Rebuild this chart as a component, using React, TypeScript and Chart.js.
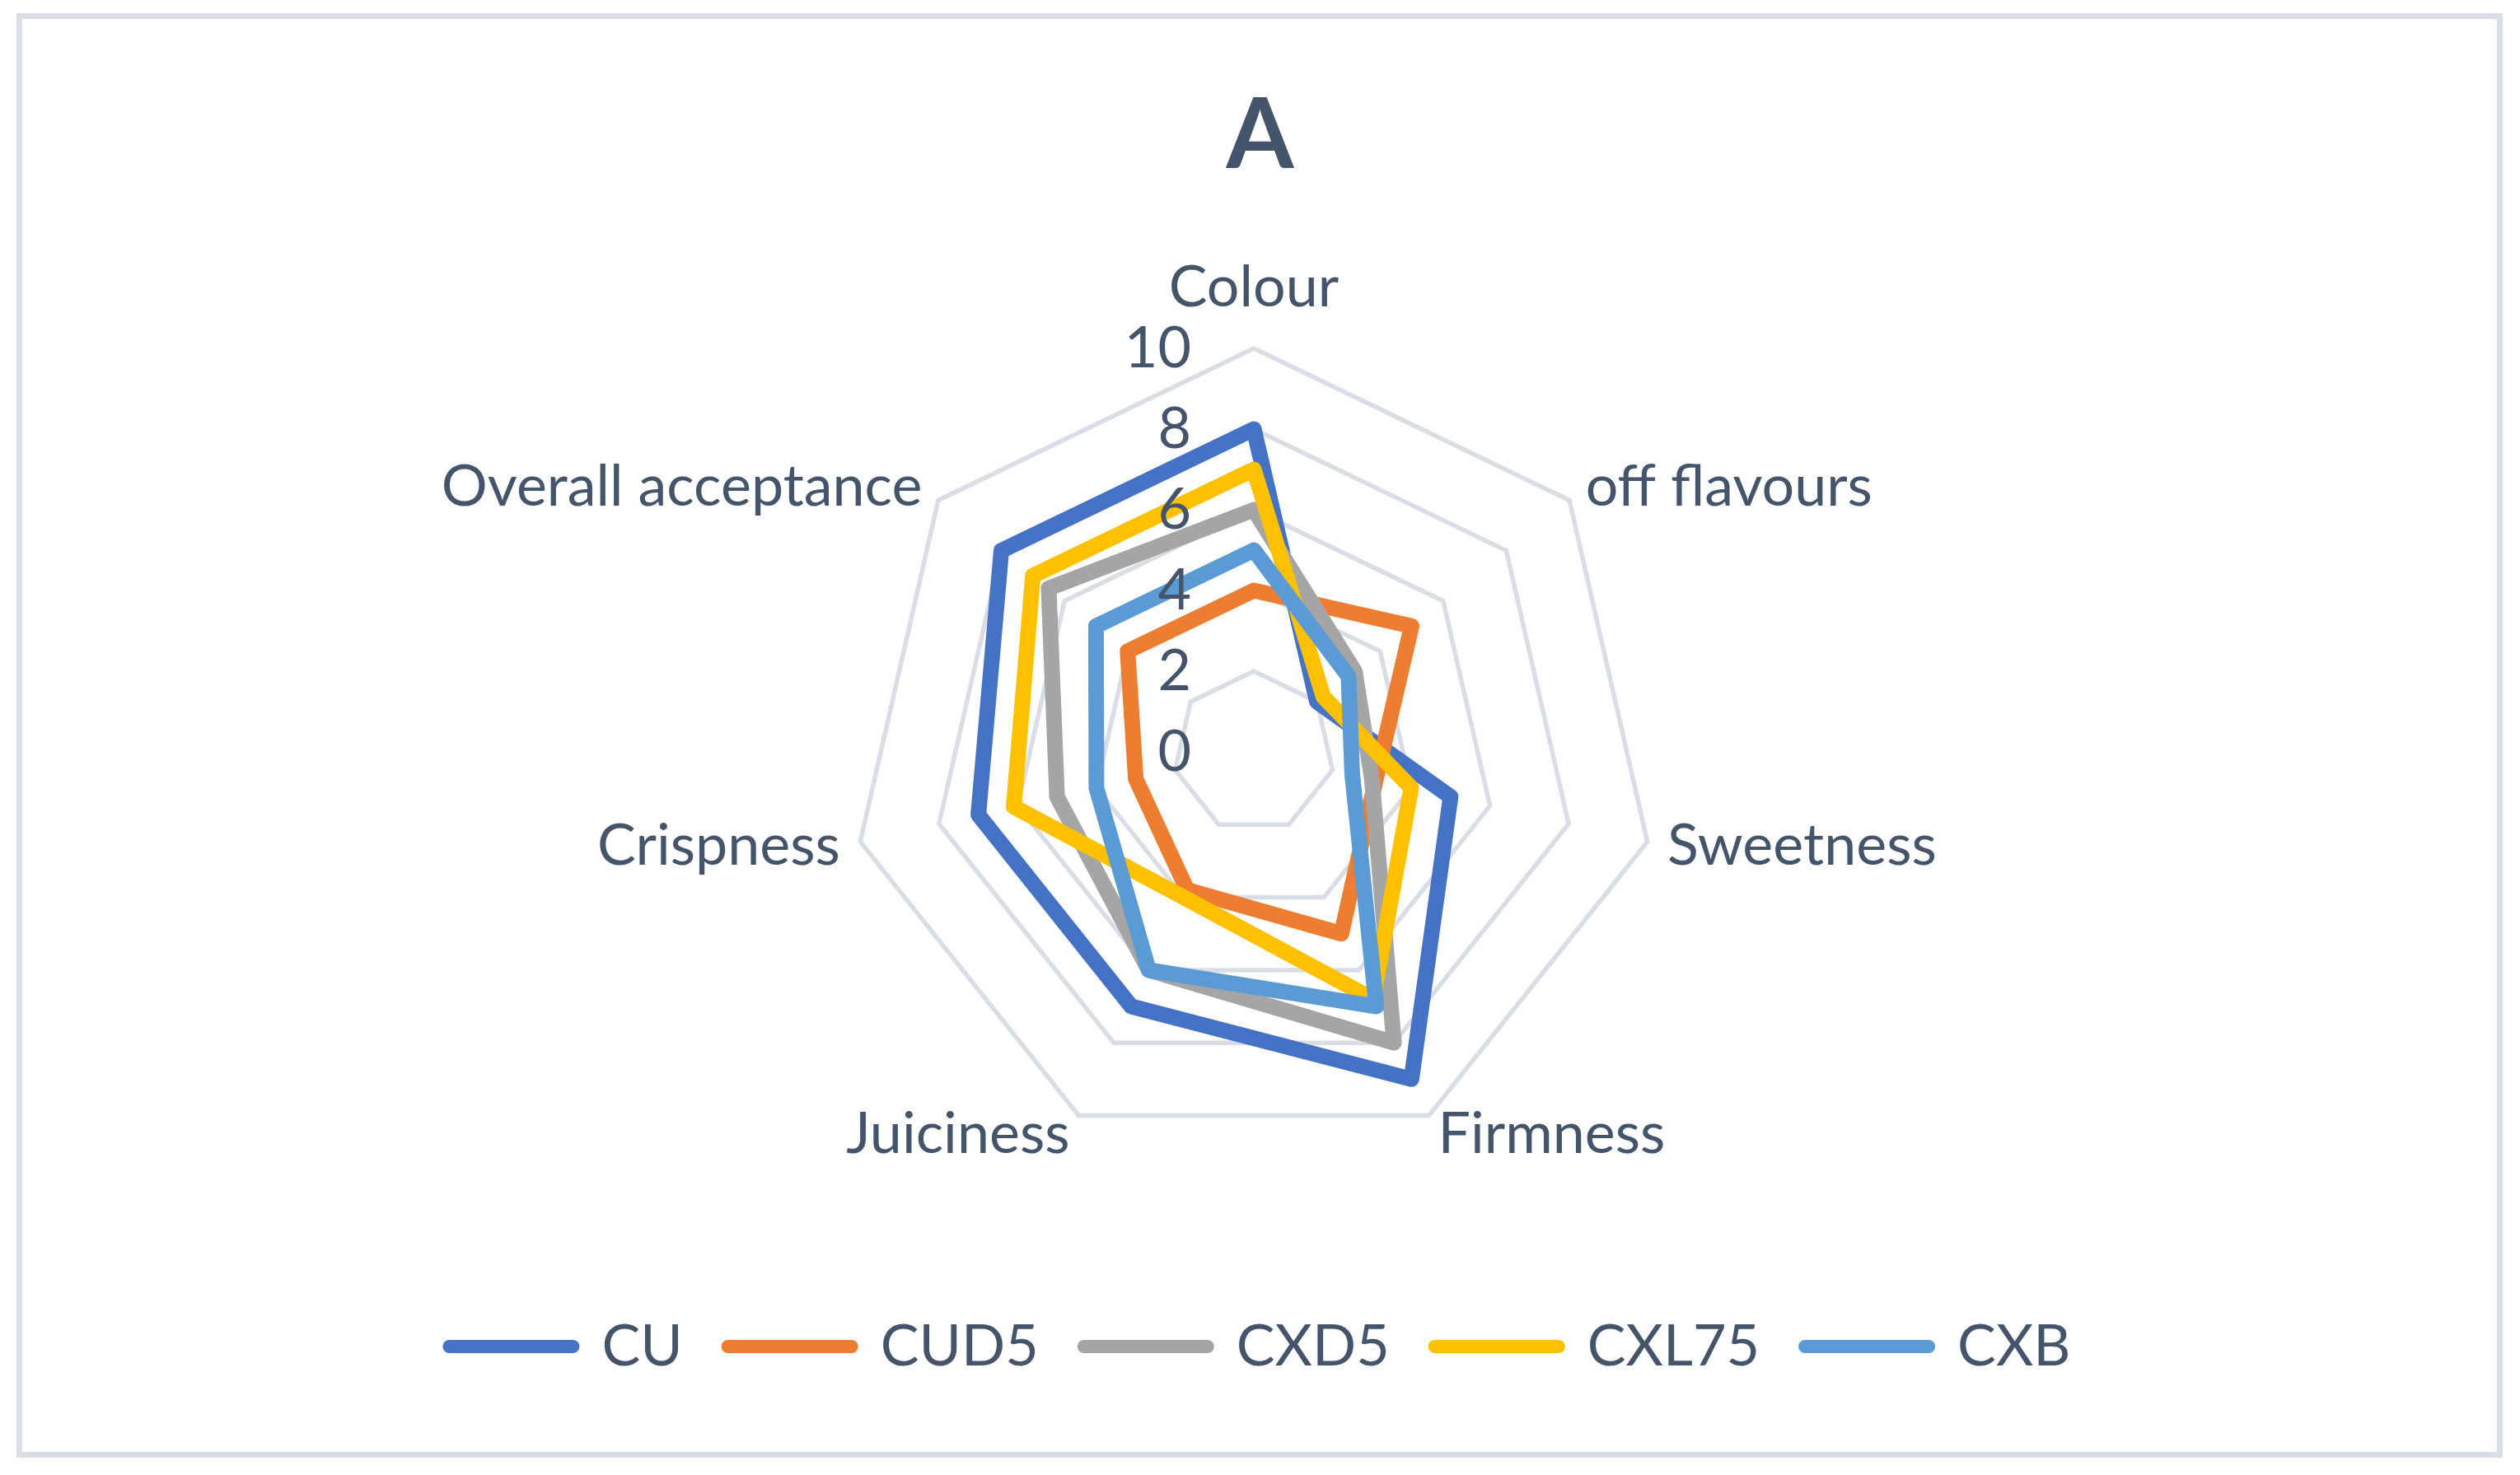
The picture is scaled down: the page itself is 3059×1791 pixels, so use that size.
import React, { useEffect, useRef } from 'react';
import { Chart, registerables } from 'chart.js';

Chart.register(...registerables);

// ---------- data ----------
const categories = ['Colour', 'off flavours', 'Sweetness', 'Firmness', 'Juiciness', 'Crispness', 'Overall acceptance'];
const seriesNames = ['CU', 'CUD5', 'CXD5', 'CXL75', 'CXB'];
const cuValues = [8.0, 2.0, 5.0, 9.0, 7.0, 7.0, 8.0];
const cud5Values = [4.0, 5.0, 3.1, 5.0, 3.8, 3.0, 4.0];
const cxd5Values = [6.0, 3.2, 3.0, 8.0, 6.0, 5.0, 6.5];
const cxl75Values = [7.0, 2.2, 4.0, 6.8, 4.0, 6.1, 7.0];
const cxbValues = [5.0, 3.0, 2.5, 7.0, 6.0, 4.0, 5.0];
const tickValues = [0, 2, 4, 6, 8, 10];
const titleText = 'A';

// ---------- style ----------
const seriesColors = ['#4472C4', '#ED7D31', '#A5A5A5', '#FFC000', '#5B9BD5'];
const TEXT = '#44546A';
const GRID = '#D9DEE6';
const FONT = 'Lato, "Open Sans", sans-serif';
const LABEL_SIZE = 70;
const W = 3059;
const H = 1791;
const CX = 1522;
const CY = 913;
const RADIUS = 490;

const frameAndLabels = {
  id: 'frameAndLabels',
  beforeDraw(chart: any) {
    const ctx = chart.ctx;
    ctx.save();
    ctx.fillStyle = '#FFFFFF';
    ctx.fillRect(0, 0, chart.width, chart.height);
    ctx.strokeStyle = GRID;
    ctx.lineWidth = 7;
    ctx.strokeRect(23.5, 19.5, 3011, 1747);
    ctx.restore();
  },
  afterDatasetsDraw(chart: any) {
    const s = chart.scales.r;
    const ctx = chart.ctx;
    ctx.save();
    ctx.fillStyle = TEXT;
    ctx.font = `${LABEL_SIZE}px ${FONT}`;
    // radial tick labels (to the left of the vertical axis)
    ctx.textAlign = 'right';
    ctx.textBaseline = 'middle';
    s.ticks.forEach((t: any) => {
      const d = s.getDistanceFromCenterForValue(t.value);
      ctx.fillText(String(t.label), s.xCenter - 76, s.yCenter - d);
    });
    // category labels
    (chart.data.labels as string[]).forEach((lab, i) => {
      const p = s.getPointPosition(i, s.drawingArea + 25);
      const a = s.getIndexAngle(i);
      const sx = Math.sin(a);
      let y = p.y;
      if (Math.abs(sx) < 0.05) {
        ctx.textAlign = 'center';
        y = p.y - 49;
      } else if (sx > 0) {
        ctx.textAlign = 'left';
      } else {
        ctx.textAlign = 'right';
      }
      ctx.fillText(lab, p.x, y);
    });
    ctx.restore();
  },
};

export default function App() {
  const ref = useRef<HTMLCanvasElement | null>(null);

  useEffect(() => {
    if (!ref.current) return;
    const values = [cuValues, cud5Values, cxd5Values, cxl75Values, cxbValues];
    const chart = new Chart(ref.current, {
      type: 'radar',
      data: {
        labels: categories,
        datasets: seriesNames.map((name, k) => ({
          label: name,
          data: values[k],
          borderColor: seriesColors[k],
          backgroundColor: seriesColors[k],
          borderWidth: 19,
          borderJoinStyle: 'round',
          borderCapStyle: 'round',
          fill: false,
          pointRadius: 0,
          pointHoverRadius: 0,
          pointBorderWidth: 16,
          pointBorderColor: seriesColors[k],
          tension: 0,
          order: seriesNames.length - k,
        })),
      },
      options: {
        responsive: false,
        devicePixelRatio: 1,
        animation: false,
        events: [],
        layout: { padding: { top: 0, bottom: 111, left: 0, right: 0 } },
        scales: {
          r: {
            min: 0,
            max: 10,
            ticks: { stepSize: 2, display: false },
            afterBuildTicks: (scale: any) => {
              scale.ticks = tickValues.map((v) => ({ value: v }));
            },
            grid: { color: GRID, lineWidth: 5.5, circular: false },
            angleLines: { display: false },
            pointLabels: { display: false },
            afterFit: (scale: any) => {
              scale.xCenter = CX;
              scale.yCenter = CY;
              scale.drawingArea = RADIUS;
            },
          },
        },
        plugins: {
          tooltip: { enabled: false },
          title: {
            display: true,
            text: titleText,
            color: TEXT,
            font: { family: FONT, size: 118, weight: 'bold', lineHeight: 1.2 },
            padding: { top: 95, bottom: 0 },
          },
          legend: {
            display: true,
            position: 'bottom',
            labels: {
              usePointStyle: true,
              pointStyle: 'line',
              pointStyleWidth: 150,
              boxWidth: 150,
              padding: 55,
              color: TEXT,
              font: { family: FONT, size: LABEL_SIZE },
              sort: (a: any, b: any) => a.datasetIndex - b.datasetIndex,
              generateLabels: (c: any) => {
                const items = (Chart.defaults as any).plugins.legend.labels.generateLabels(c);
                return items.map((it: any) => ({
                  ...it,
                  lineCap: 'round',
                  lineWidth: 16,
                  strokeStyle: seriesColors[it.datasetIndex],
                  fillStyle: seriesColors[it.datasetIndex],
                }));
              },
            },
          },
        },
      } as any,
      plugins: [frameAndLabels],
    });
    return () => chart.destroy();
  }, []);

  return (
    <div style={{ position: 'fixed', left: 0, top: 0, width: W, height: H }}>
      <canvas ref={ref} width={W} height={H} style={{ display: 'block', width: W, height: H }} />
    </div>
  );
}
